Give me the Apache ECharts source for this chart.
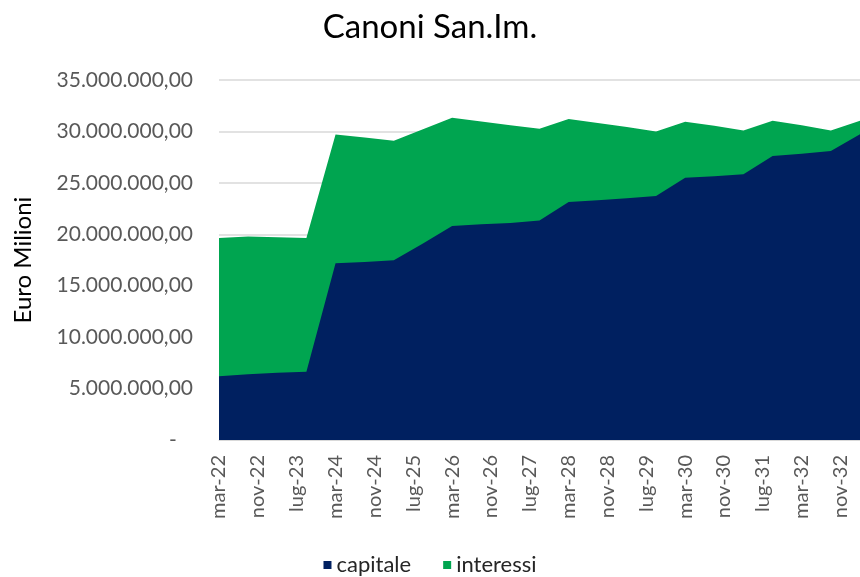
<!DOCTYPE html>
<html>
<head>
<meta charset="utf-8">
<script src="https://cdn.jsdelivr.net/npm/echarts@6/dist/echarts.min.js"></script>
<style>
  html, body { margin: 0; padding: 0; background: #fff; }
  #chart { width: 860px; height: 577px; }
</style>
</head>
<body>
<div id="chart"></div>
<script>
// semiannual payment dates
const periods = ['mar-22', 'set-22', 'mar-23', 'set-23', 'mar-24', 'set-24', 'mar-25', 'set-25',
  'mar-26', 'set-26', 'mar-27', 'set-27', 'mar-28', 'set-28', 'mar-29', 'set-29',
  'mar-30', 'set-30', 'mar-31', 'set-31', 'mar-32', 'set-32', 'mar-33']

// values in millions of euro
const capitale = [6.21, 6.40, 6.53, 6.63, 17.18, 17.30, 17.48, 19.10,
  20.80, 20.97, 21.10, 21.33, 23.14, 23.32, 23.50, 23.72,
  25.50, 25.65, 25.83, 27.60, 27.83, 28.09, 29.73]
const interessi = [13.43, 13.38, 13.17, 13.01, 12.52, 12.10, 11.62, 11.10,
  10.53, 10.00, 9.50, 8.93, 8.06, 7.50, 6.92, 6.28,
  5.44, 4.90, 4.27, 3.44, 2.77, 2.01, 1.31]

const tickLabels = ['mar-22', 'nov-22', 'lug-23', 'mar-24', 'nov-24', 'lug-25', 'mar-26', 'nov-26',
  'lug-27', 'mar-28', 'nov-28', 'lug-29', 'mar-30', 'nov-30', 'lug-31', 'mar-32', 'nov-32']

const mesi = ['gen', 'feb', 'mar', 'apr', 'mag', 'giu', 'lug', 'ago', 'set', 'ott', 'nov', 'dic']
const monthIndex = (s) => {
  const [m, y] = s.split('-')
  return (2000 + Number(y)) * 12 + mesi.indexOf(m)
}
const origin = monthIndex(periods[0])
const xOf = (s) => monthIndex(s) - origin

const labelAt = {}
tickLabels.forEach(t => { labelAt[xOf(t)] = t })

const fmtEuro = (v) => {
  if (v === 0) return '-   '
  return String(Math.round(v)).replace(/\B(?=(\d{3})+(?!\d))/g, '.') + ',00'
}

const capData = periods.map((p, i) => [xOf(p), capitale[i] * 1e6])
// interessi drawn as the top band: area from capitale + interessi down, capitale painted over it
const totData = periods.map((p, i) => [xOf(p), (capitale[i] + interessi[i]) * 1e6])

const font = 'Lato, "Noto Sans", sans-serif'
const chart = echarts.init(document.getElementById('chart'))

chart.setOption({
  animation: false,
  textStyle: { fontFamily: font },
  title: {
    text: 'Canoni San.Im.',
    left: 'center',
    top: 6,
    textStyle: { fontSize: 33, fontWeight: 'normal', color: '#000', fontFamily: font }
  },
  legend: {
    data: ['capitale', 'interessi'],
    top: 549,
    left: 'center',
    icon: 'rect',
    itemWidth: 8,
    itemHeight: 8,
    itemGap: 32,
    textStyle: { fontSize: 22, color: '#262626', fontFamily: font }
  },
  grid: { left: 219, right: -4, top: 80, bottom: 137 },
  xAxis: {
    type: 'value',
    min: 0,
    max: xOf(periods[periods.length - 1]),
    interval: 8,
    axisLine: { show: true, lineStyle: { color: '#d9d9d9', width: 1 } },
    axisTick: { show: false },
    splitLine: { show: false },
    axisLabel: {
      rotate: 90,
      margin: 15,
      fontSize: 20,
      color: '#595959',
      showMaxLabel: false,
      formatter: (v) => labelAt[v] || ''
    }
  },
  yAxis: {
    type: 'value',
    min: 0,
    max: 35000000,
    interval: 5000000,
    name: 'Euro Milioni',
    nameLocation: 'middle',
    nameGap: 184,
    nameTextStyle: { fontSize: 24, color: '#000', fontFamily: font },
    axisLine: { show: false },
    axisTick: { show: false },
    splitLine: { lineStyle: { color: '#d9d9d9', width: 1.5 } },
    axisLabel: { margin: 26, fontSize: 21, color: '#595959', formatter: fmtEuro }
  },
  series: [
    {
      name: 'interessi',
      type: 'line',
      data: totData,
      symbol: 'none',
      lineStyle: { width: 0 },
      itemStyle: { color: '#00a550' },
      areaStyle: { color: '#00a550', opacity: 1 }
    },
    {
      name: 'capitale',
      type: 'line',
      data: capData,
      symbol: 'none',
      lineStyle: { width: 0 },
      itemStyle: { color: '#002060' },
      areaStyle: { color: '#002060', opacity: 1 }
    }
  ]
})
</script>
</body>
</html>
